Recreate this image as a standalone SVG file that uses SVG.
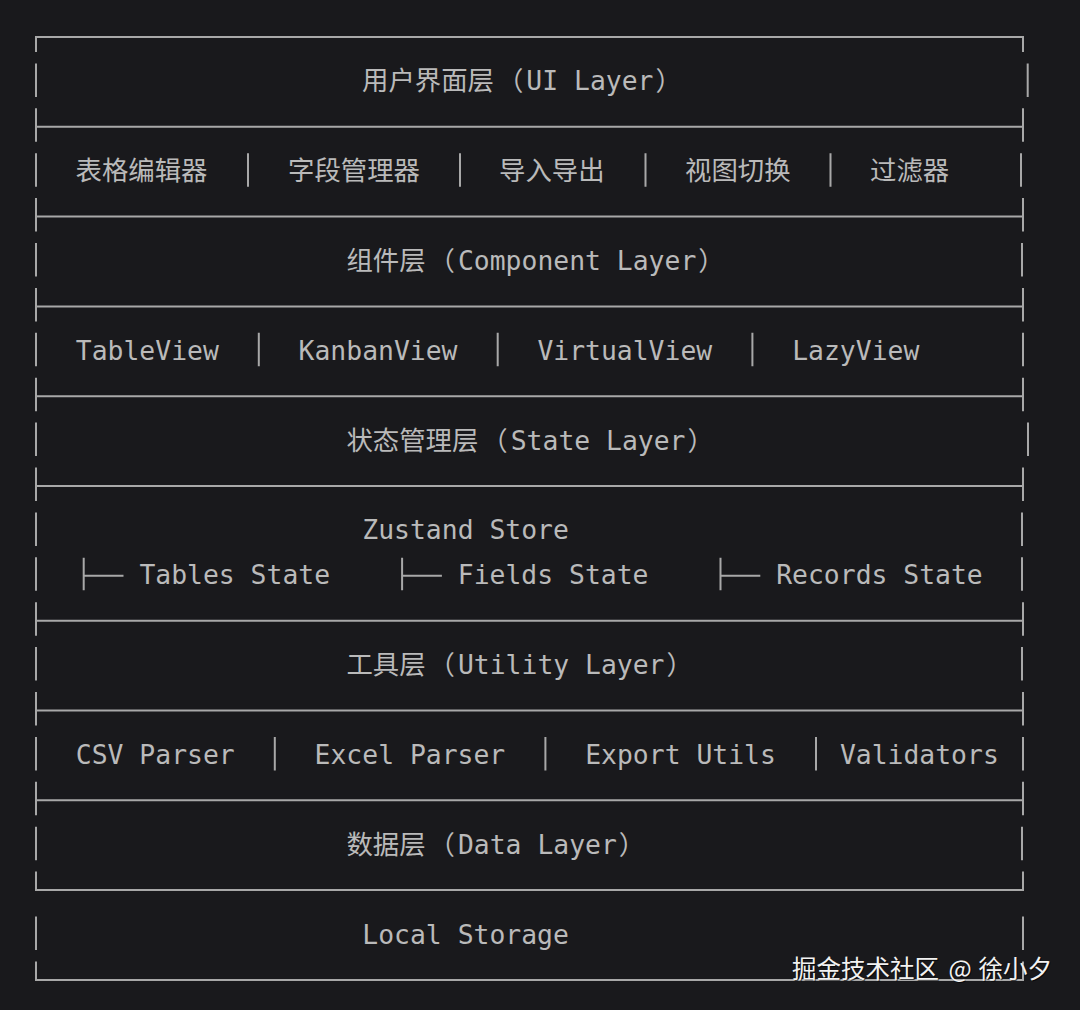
<svg xmlns="http://www.w3.org/2000/svg" width="1080" height="1010" viewBox="0 0 1080 1010">
  <style>
    .bg { fill: #19191c; }
    .t { font-family: "DejaVu Sans Mono", "Noto Sans CJK SC", monospace; font-size: 26.4px; fill: #bababa; }
    .ln { stroke: #a8a8a8; stroke-width: 2; fill: none; stroke-linecap: butt; }
    .wm { font-family: "Noto Sans CJK SC", "Noto Sans", sans-serif; font-size: 24.5px; fill: #f2f2f2; }
    .wms { font-family: "Noto Sans CJK SC", "Noto Sans", sans-serif; font-size: 24.5px; fill: #000000; opacity: 0.6; }
  </style>
  <rect class="bg" x="0" y="0" width="1080" height="1010"/>

  <g id="frame">
    <path class="ln" d="M35 37 H1024 M35 126.8 H1024 M35 216.6 H1024 M35 306.4 H1024 M35 396.2 H1024 M35 486 H1024 M35 620.7 H1024 M35 710.5 H1024 M35 800.3 H1024 M35 890.1 H1024 M35 979.9 H1024"/>
    <path class="ln" d="M36 36 V52 M36 63.4 V96.9 M36 108.3 V141.8 M36 153.2 V186.7 M36 198.1 V231.6 M36 243 V276.5 M36 287.9 V321.4 M36 332.8 V366.3 M36 377.7 V411.2 M36 422.6 V456.1 M36 467.5 V501 M36 512.4 V545.9 M36 557.3 V590.8 M36 602.2 V635.7 M36 647.1 V680.6 M36 692 V725.5 M36 736.9 V770.4 M36 781.8 V815.3 M36 826.7 V860.2 M36 871.6 V891.1 M36 916.5 V950 M36 961.4 V980.9"/>
    <path class="ln" d="M1023 36 V52 M1027.7 63.4 V96.9 M1023 108.3 V141.8 M1021 153.2 V186.7 M1023 198.1 V231.6 M1022 243 V276.5 M1023 287.9 V321.4 M1023 332.8 V366.3 M1023 377.7 V411.2 M1028 422.6 V456.1 M1023 467.5 V501 M1022 512.4 V545.9 M1022 557.3 V590.8 M1023 602.2 V635.7 M1022 647.1 V680.6 M1023 692 V725.5 M1023 736.9 V770.4 M1023 781.8 V815.3 M1022 826.7 V860.2 M1023 871.6 V891.1 M1023 916.5 V950 M1023 961.4 V980.9"/>
  </g>

  <g id="ui-layer">
    <text class="t" x="362" y="90.4">用户界面层<tspan dx="3">（</tspan><tspan dx="3">UI Layer</tspan><tspan dx="2">）</tspan></text>
    <text class="t" x="75.5" y="180.2">表格编辑器</text>
    <text class="t" x="288" y="180.2">字段管理器</text>
    <text class="t" x="499" y="180.2">导入导出</text>
    <text class="t" x="685" y="180.2">视图切换</text>
    <text class="t" x="870" y="180.2">过滤器</text>
    <path class="ln" d="M248 153.2 V186.7 M460 153.2 V186.7 M645.5 153.2 V186.7 M830.5 153.2 V186.7"/>
  </g>

  <g id="component-layer">
    <text class="t" x="346.4" y="270">组件层<tspan dx="3">（</tspan><tspan dx="3">Component Layer</tspan><tspan dx="2">）</tspan></text>
    <text class="t" x="75.8" y="359.8">TableView</text>
    <text class="t" x="298.6" y="359.8">KanbanView</text>
    <text class="t" x="537.4" y="359.8">VirtualView</text>
    <text class="t" x="792.2" y="359.8">LazyView</text>
    <path class="ln" d="M258.8 332.8 V366.3 M497.7 332.8 V366.3 M752.4 332.8 V366.3"/>
  </g>

  <g id="state-layer">
    <text class="t" x="346.4" y="449.6">状态管理层<tspan dx="3">（</tspan><tspan dx="3">State Layer</tspan><tspan dx="2">）</tspan></text>
    <text class="t" x="362.3" y="539.4">Zustand Store</text>
    <text class="t" x="139.4" y="584.3">Tables State</text>
    <text class="t" x="457.8" y="584.3">Fields State</text>
    <text class="t" x="776.2" y="584.3">Records State</text>
  </g>

  <g id="connectors">
    <path class="ln" d="M83.7 557.8 V590.3 M83.7 575.8 H123.5 M402.1 557.8 V590.3 M402.1 575.8 H441.9 M720.5 557.8 V590.3 M720.5 575.8 H760.3"/>
  </g>

  <g id="utility-layer">
    <text class="t" x="346.4" y="674.1">工具层<tspan dx="3">（</tspan><tspan dx="3">Utility Layer</tspan><tspan dx="2">）</tspan></text>
    <text class="t" x="75.8" y="763.9">CSV Parser</text>
    <text class="t" x="314.6" y="763.9">Excel Parser</text>
    <text class="t" x="585.2" y="763.9">Export Utils</text>
    <text class="t" x="839.9" y="763.9">Validators</text>
    <path class="ln" d="M274.8 736.9 V770.4 M545.4 736.9 V770.4 M816 736.9 V770.4"/>
  </g>

  <g id="data-layer">
    <text class="t" x="346.4" y="853.7">数据层<tspan dx="3">（</tspan><tspan dx="3">Data Layer</tspan><tspan dx="2">）</tspan></text>
  </g>

  <g id="local-storage">
    <text class="t" x="362.3" y="943.5">Local Storage</text>
  </g>

  <g id="watermark">
    <text class="wms" x="793" y="979"><tspan x="793">掘金技术社区</tspan><tspan x="949.5">@</tspan><tspan x="979.5">徐小夕</tspan></text>
    <text class="wm" x="792" y="978"><tspan x="792">掘金技术社区</tspan><tspan x="948.5">@</tspan><tspan x="978.5">徐小夕</tspan></text>
  </g>
</svg>
